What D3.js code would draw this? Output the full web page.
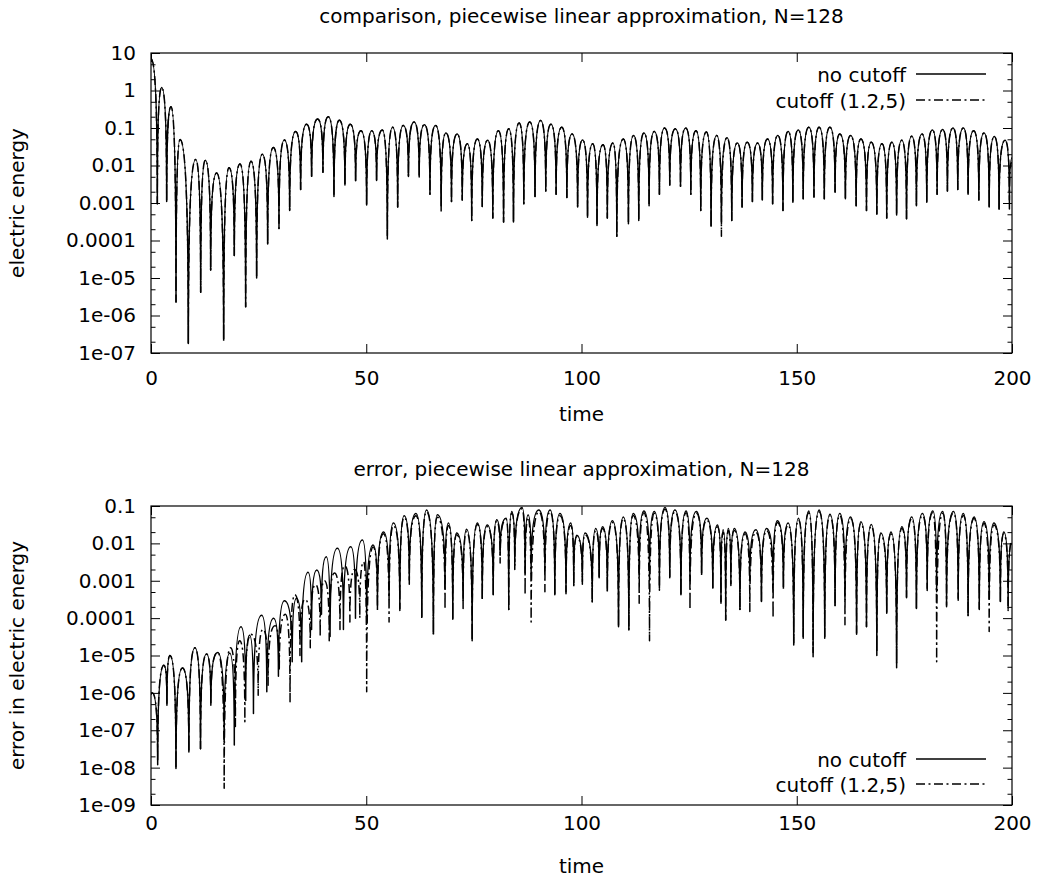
<!DOCTYPE html>
<html>
<head>
<meta charset="utf-8">
<script src="https://cdn.jsdelivr.net/npm/d3@7"></script>
<style>
  body { margin: 0; background: #fff; }
  text { font-family: "DejaVu Sans", sans-serif; }
</style>
</head>
<body>
<div id="chart"></div>
<script>
// x axis ticks (time)
const xTicks = [0, 50, 100, 150, 200];

// y axis ticks, upper panel
const topTicks = [10, 1, 0.1, 0.01, 0.001, 0.0001, 1e-5, 1e-6, 1e-7];
const topTickLabels = ["10", "1", "0.1", "0.01", "0.001", "0.0001", "1e-05", "1e-06", "1e-07"];

// y axis ticks, lower panel
const errTicks = [0.1, 0.01, 0.001, 0.0001, 1e-5, 1e-6, 1e-7, 1e-8, 1e-9];
const errTickLabels = ["0.1", "0.01", "0.001", "0.0001", "1e-05", "1e-06", "1e-07", "1e-08", "1e-09"];

const seriesNames = ["no cutoff", "cutoff (1.2,5)"];

// electric energy, no cutoff: [time, value] at the lobe tops and dips
const topNoCutoff = [
  [0,7],[1.47,9.5e-4],[2.48,1.2],[3.64,1.1e-3],[4.64,0.37],[5.81,2.3e-6],[6.74,0.049],[8.67,1.8e-7],
  [10.38,0.0145],[11.54,4.2e-6],[12.62,0.0138],[13.86,1.6e-5],[15.25,6.3e-3],[16.88,2.4e-7],[18.12,8.7e-3],
  [19.35,4e-5],[20.67,0.011],[21.99,1.7e-6],[23.23,0.013],[24.54,1e-5],[25.86,0.020],[27.1,8.1e-5],
  [28.42,0.030],[29.73,2.1e-4],[30.97,0.048],[32.21,6.3e-4],[33.6,0.081],[34.76,2.3e-3],[36.15,0.126],
  [37.31,5.2e-3],[38.7,0.174],[39.94,6.6e-3],[41.18,0.20],[42.5,1.5e-3],[43.74,0.162],[45.05,3e-3],
  [46.29,0.126],[47.53,3.9e-3],[48.77,0.085],[50.09,8.9e-4],[51.26,0.085],[52.4,4e-3],[53.73,0.089],
  [54.9,1.35e-4],[56.1,0.105],[57.3,7.8e-4],[58.6,0.117],[59.8,5.1e-3],[61.1,0.145],[62.3,4.9e-3],
  [63.5,0.123],[64.8,1.7e-3],[66.1,0.117],[67.4,8.5e-4],[68.5,0.074],[69.8,1.1e-3],[71.1,0.069],
  [72.3,1.2e-3],[73.5,0.038],[74.5,3.4e-4],[75.8,0.051],[76.95,8.1e-4],[78.2,0.047],[79.4,4e-4],
  [80.7,0.085],[81.9,3.1e-4],[83.1,0.095],[84.2,3.1e-4],[85.5,0.135],[86.6,9.5e-4],[88.0,0.145],
  [89.2,1.5e-3],[90.5,0.158],[91.7,2.1e-3],[92.9,0.126],[94.1,1.7e-3],[95.4,0.105],[96.6,1.4e-3],
  [97.8,0.069],[99.1,7.8e-4],[100.25,0.048],[101.4,4.2e-4],[102.6,0.038],[103.6,2.5e-4],[105.0,0.036],
  [106.0,4e-4],[107.3,0.040],[108.2,1.3e-4],[109.7,0.051],[110.9,2.8e-4],[112.1,0.063],[113.3,3.4e-4],
  [114.5,0.074],[115.7,8.5e-4],[116.9,0.081],[118.1,1.7e-3],[119.3,0.10],[120.5,3e-3],[121.8,0.095],
  [123.0,2.8e-3],[124.2,0.10],[125.4,1.7e-3],[126.6,0.085],[127.7,6.3e-4],[129.0,0.078],[130.1,2.5e-4],
  [131.4,0.063],[132.5,3.1e-4],[133.8,0.055],[134.9,3.4e-4],[136.2,0.040],[137.3,7.8e-4],[138.5,0.042],
  [139.7,1.1e-3],[140.9,0.040],[142.0,1.2e-3],[143.2,0.051],[144.4,9.5e-4],[145.6,0.063],[146.8,6.3e-4],
  [148.0,0.081],[149.1,1.05e-3],[150.35,0.089],[151.5,1.3e-3],[152.8,0.105],[154.0,1.45e-3],[155.2,0.105],
  [156.4,1.3e-3],[157.7,0.105],[158.9,1.95e-3],[160.0,0.069],[161.3,1.3e-3],[162.5,0.063],[163.8,8.5e-4],
  [164.9,0.051],[166.2,6.3e-4],[167.3,0.042],[168.6,5.1e-4],[169.8,0.038],[170.9,4e-4],[172.1,0.042],
  [173.2,4.8e-4],[174.4,0.047],[175.5,3.8e-4],[176.7,0.060],[177.8,8.5e-4],[179.1,0.069],[180.2,1.05e-3],
  [181.5,0.089],[182.6,1.7e-3],[183.9,0.091],[185.0,2.1e-3],[186.3,0.10],[187.4,2.3e-3],[188.7,0.10],
  [189.8,1.7e-3],[191.1,0.085],[192.3,1.2e-3],[193.5,0.074],[194.7,7.8e-4],[195.9,0.059],[197.0,6.9e-4],
  [198.4,0.047],[199.4,6.9e-4],[200,0.016]
];

// electric energy, cutoff (1.2,5)
const topCutoff = [
  [0,7],[1.47,9.5e-4],[2.48,1.2],[3.64,1.1e-3],[4.64,0.37],[5.81,2.3e-6],[6.74,0.049],[8.67,1.8e-7],
  [10.38,0.0145],[11.54,4.2e-6],[12.62,0.0138],[13.86,1.6e-5],[15.25,6.3e-3],[16.88,2e-7],[18.12,8.7e-3],
  [19.35,4e-5],[20.67,0.011],[21.99,1.7e-6],[23.23,0.013],[24.54,1e-5],[25.86,0.020],[27.1,8.1e-5],
  [28.42,0.030],[29.73,2.1e-4],[30.97,0.048],[32.21,6.3e-4],[33.6,0.081],[34.76,2.3e-3],[36.15,0.126],
  [37.31,5.2e-3],[38.7,0.174],[39.94,6.6e-3],[41.18,0.20],[42.5,1.5e-3],[43.74,0.162],[45.05,3e-3],
  [46.29,0.126],[47.53,3.9e-3],[48.77,0.085],[50.09,8.9e-4],[51.26,0.085],[52.4,4e-3],[53.73,0.089],
  [54.9,1.1e-4],[56.1,0.105],[57.3,7.8e-4],[58.6,0.117],[59.8,5.1e-3],[61.1,0.145],[62.3,4.9e-3],
  [63.5,0.123],[64.8,1.7e-3],[66.1,0.117],[67.4,5.9e-4],[68.5,0.074],[69.8,1.1e-3],[71.1,0.069],
  [72.3,1.2e-3],[73.5,0.038],[74.5,3.4e-4],[75.8,0.051],[76.95,8.1e-4],[78.2,0.047],[79.4,4e-4],
  [80.7,0.085],[81.9,3.1e-4],[83.1,0.095],[84.2,3.1e-4],[85.5,0.135],[86.6,9.5e-4],[88.0,0.145],
  [89.2,1.5e-3],[90.5,0.158],[91.7,2.1e-3],[92.9,0.126],[94.1,1.7e-3],[95.4,0.105],[96.6,1.4e-3],
  [97.8,0.069],[99.1,7.8e-4],[100.25,0.048],[101.4,4.2e-4],[102.6,0.038],[103.6,2.5e-4],[105.0,0.036],
  [106.0,4e-4],[107.3,0.040],[108.2,1.3e-4],[109.7,0.051],[110.9,2.8e-4],[112.1,0.063],[113.3,3.4e-4],
  [114.5,0.074],[115.7,8.5e-4],[116.9,0.081],[118.1,1.7e-3],[119.3,0.10],[120.5,3e-3],[121.8,0.095],
  [123.0,2.8e-3],[124.2,0.10],[125.4,1.7e-3],[126.6,0.085],[127.7,6.3e-4],[129.0,0.078],[130.1,2.2e-4],
  [131.4,0.063],[132.5,1.3e-4],[133.8,0.055],[134.9,3.4e-4],[136.2,0.040],[137.3,7.8e-4],[138.5,0.042],
  [139.7,1.1e-3],[140.9,0.040],[142.0,1.2e-3],[143.2,0.051],[144.4,9.5e-4],[145.6,0.063],[146.8,6.3e-4],
  [148.0,0.081],[149.1,1.05e-3],[150.35,0.089],[151.5,1.3e-3],[152.8,0.105],[154.0,1.45e-3],[155.2,0.105],
  [156.4,1.3e-3],[157.7,0.105],[158.9,1.95e-3],[160.0,0.069],[161.3,1.3e-3],[162.5,0.063],[163.8,8.5e-4],
  [164.9,0.051],[166.2,6.3e-4],[167.3,0.042],[168.6,5.1e-4],[169.8,0.038],[170.9,4e-4],[172.1,0.042],
  [173.2,4.8e-4],[174.4,0.047],[175.5,3.8e-4],[176.7,0.060],[177.8,8.5e-4],[179.1,0.069],[180.2,1.05e-3],
  [181.5,0.089],[182.6,1.7e-3],[183.9,0.091],[185.0,2.1e-3],[186.3,0.10],[187.4,2.3e-3],[188.7,0.10],
  [189.8,1.7e-3],[191.1,0.085],[192.3,1.2e-3],[193.5,0.074],[194.7,7.8e-4],[195.9,0.059],[197.0,6.9e-4],
  [198.4,0.047],[199.4,1.2e-3],[200,0.012]
];

// error in electric energy, no cutoff
const errNoCutoff = [
  [0,9e-7],[0.3,1e-6],[1.55,1.2e-8],[3.0,5.5e-6],[3.7,4.7e-7],[4.4,1e-5],[5.8,9.5e-9],[7.3,4.6e-6],
  [8.8,2.6e-8],[10.2,1.6e-5],[11.5,3.2e-8],[12.9,1.1e-5],[13.9,4.7e-7],[15.5,1.2e-5],[17.0,4.9e-8],
  [18.3,1.15e-5],[19.35,4e-8],[20.9,5.9e-5],[22.0,6.3e-7],[22.9,3.5e-5],[23.8,2.8e-7],[25.7,1.2e-4],
  [26.9,1.07e-6],[28.5,1e-4],[29.6,2.8e-6],[31.0,2.9e-4],[32.8,6.8e-6],[33.8,3.4e-4],[35.0,6.8e-6],
  [36.5,1.7e-3],[37.3,5e-5],[38.5,1.95e-3],[39.6,1.26e-4],[40.7,4.4e-3],[41.6,3.2e-5],[43.3,7.4e-3],
  [44.7,5e-5],[46.4,8.1e-3],[47.5,1e-4],[49.1,0.0123],[50.1,7.2e-5],[51.6,9.1e-3],[52.6,2.2e-4],
  [54.0,0.020],[55.3,3.2e-4],[56.3,0.035],[57.8,1.8e-4],[58.8,0.055],[60.0,1.05e-3],[61.55,0.063],
  [62.9,1.1e-4],[64.0,0.078],[65.6,3.9e-5],[66.5,0.058],[68.3,6.3e-4],[69.1,0.035],[70.1,9.3e-5],
  [71.0,0.019],[72.5,3e-4],[73.3,0.024],[74.6,2.5e-5],[75.8,0.035],[76.95,3.4e-4],[78.1,0.031],
  [79.5,4.2e-4],[80.3,0.043],[81.1,5e-3],[82.5,0.047],[83.1,1.7e-4],[83.8,0.071],[84.5,2.6e-3],
  [86.2,0.091],[86.9,1.6e-3],[87.6,0.058],[88.3,1.6e-3],[90.1,0.078],[91.5,1.8e-3],[92.7,0.078],
  [93.8,4.2e-4],[95.0,0.063],[96.4,5.1e-4],[97.5,0.035],[98.2,7.8e-4],[98.9,0.0166],[100.2,9.5e-4],
  [100.8,0.019],[102.5,2.8e-4],[103.3,0.025],[104.1,1.3e-3],[104.9,0.028],[106.0,5.6e-4],[107.2,0.040],
  [108.6,5.9e-5],[109.7,0.051],[111.0,4.8e-5],[112.0,0.063],[113.4,1.26e-3],[114.5,0.074],[115.8,1e-3],
  [116.9,0.071],[118.1,6.3e-4],[119.4,0.091],[120.5,1.3e-3],[121.7,0.078],[123.1,4.2e-4],[124.3,0.074],
  [125.2,1e-3],[126.7,0.071],[127.9,1.6e-3],[129.1,0.047],[130.5,6.5e-4],[131.6,0.031],[132.4,2.8e-4],
  [132.9,0.023],[133.5,8.9e-5],[134.1,0.025],[134.7,8.5e-4],[135.5,0.025],[136.8,1.7e-4],[138.0,0.020],
  [139.1,1e-3],[140.5,0.023],[141.8,2.8e-4],[143.0,0.025],[144.5,6.3e-4],[145.5,0.040],[146.9,6.9e-4],
  [148.0,0.035],[149.3,1.9e-5],[150.4,0.047],[151.5,2.9e-5],[152.8,0.074],[153.8,9.3e-6],[155.2,0.078],
  [156.5,2.9e-5],[157.7,0.060],[158.9,2.2e-4],[160.0,0.063],[161.2,3.2e-4],[162.5,0.051],[163.9,3.7e-5],
  [164.9,0.038],[166.2,5.9e-5],[167.3,0.032],[168.6,1e-5],[169.5,0.019],[170.9,1.35e-4],[171.9,0.020],
  [173.2,4.7e-6],[174.4,0.028],[175.5,3.7e-4],[176.7,0.051],[177.8,1.8e-4],[179.2,0.063],[180.3,6.3e-4],
  [181.6,0.074],[182.5,5.1e-4],[183.9,0.071],[184.8,2.2e-4],[186.4,0.071],[187.5,3.4e-4],[188.7,0.063],
  [189.8,1.2e-4],[191.2,0.051],[192.4,1.8e-4],[193.5,0.038],[194.7,3.2e-4],[195.8,0.035],[197.3,2.8e-4],
  [198.1,0.020],[199.1,1.8e-4],[200,0.01]
];

// error in electric energy, cutoff (1.2,5)
const errCutoff = [
  [0,9e-7],[0.3,1e-6],[1.55,1.5e-8],[3.0,5.5e-6],[3.7,5e-7],[4.4,1e-5],[5.8,9.5e-9],[7.3,4.6e-6],
  [8.8,2.6e-8],[10.2,1.6e-5],[11.5,3.2e-8],[12.9,1.1e-5],[13.9,4.7e-7],[15.5,1.2e-5],[17.0,2.8e-9],
  [18.5,1.6e-5],[19.6,1.26e-7],[20.6,2.5e-5],[21.8,1.7e-7],[23.2,3.7e-5],[24.9,8.7e-7],[26.0,5e-5],
  [27.2,1.6e-6],[28.8,6.3e-5],[29.8,4e-6],[31.2,1.26e-4],[32.3,5.8e-7],[33.4,4.2e-4],[34.6,1e-5],
  [35.8,3.2e-4],[37.0,1.6e-5],[38.2,7.9e-4],[39.3,3.2e-5],[40.3,1e-3],[41.4,2.5e-5],[42.6,1.6e-3],
  [43.9,5e-5],[45.0,2.5e-3],[46.2,7.9e-5],[47.3,2e-3],[48.5,1e-4],[49.4,3.2e-3],[50.1,1.07e-6],
  [51.6,8e-3],[52.6,1.5e-4],[54.0,0.018],[55.3,7.9e-5],[56.3,0.03],[57.8,1.6e-4],[58.8,0.05],
  [60.0,8e-4],[61.55,0.055],[62.9,1e-4],[64.0,0.07],[65.6,3.5e-5],[66.5,0.05],[68.3,1.7e-4],
  [69.1,0.03],[70.1,9e-5],[71.0,0.017],[72.5,1.8e-4],[73.3,0.021],[74.6,2.5e-5],[75.8,0.032],
  [76.95,3e-4],[78.1,0.028],[79.5,4e-4],[80.3,0.04],[81.1,3e-3],[82.5,0.045],[83.1,1.7e-4],
  [83.8,0.065],[84.5,2e-3],[86.2,0.085],[86.9,4.2e-4],[87.6,0.05],[88.3,7.9e-5],[90.1,0.07],
  [91.5,5.1e-4],[92.7,0.07],[93.8,4e-4],[95.0,0.055],[96.4,4.5e-4],[97.5,0.03],[98.2,7e-4],
  [98.9,0.015],[100.2,8e-4],[100.8,0.017],[102.5,2.6e-4],[103.3,0.022],[104.1,1.2e-3],[104.9,0.025],
  [106.0,5e-4],[107.2,0.036],[108.6,5.9e-5],[109.7,0.046],[111.0,4.8e-5],[112.0,0.056],[113.4,2.5e-4],
  [114.5,0.066],[115.8,2.5e-5],[116.9,0.064],[118.1,5.6e-4],[119.4,0.082],[120.5,1.2e-3],[121.7,0.07],
  [123.1,4e-4],[124.3,0.066],[125.2,1.7e-4],[126.7,0.064],[127.9,1.4e-3],[129.1,0.042],[130.5,5.8e-4],
  [131.6,0.028],[132.4,2.5e-4],[132.9,0.02],[133.5,8.9e-5],[134.1,0.022],[134.7,7.5e-4],[135.5,0.022],
  [136.8,1.6e-4],[138.0,0.018],[139.1,1.5e-4],[140.5,0.02],[141.8,2.6e-4],[143.0,0.022],[144.5,1e-4],
  [145.5,0.036],[146.9,6e-4],[148.0,0.031],[149.3,2.2e-5],[150.4,0.042],[151.5,3.2e-5],[152.8,0.066],
  [153.8,1.2e-5],[155.2,0.07],[156.5,3.2e-5],[157.7,0.054],[158.9,2e-4],[160.0,0.056],[161.2,6.6e-5],
  [162.5,0.046],[163.9,4e-5],[164.9,0.034],[166.2,6e-5],[167.3,0.029],[168.6,1.2e-5],[169.5,0.017],
  [170.9,1.3e-4],[171.9,0.018],[173.2,6e-6],[174.4,0.025],[175.5,3.5e-4],[176.7,0.046],[177.8,1.7e-4],
  [179.2,0.056],[180.3,5.5e-4],[181.6,0.066],[182.5,6.8e-6],[183.9,0.064],[184.8,2e-4],[186.4,0.064],
  [187.5,3e-4],[188.7,0.056],[189.8,1.1e-4],[191.2,0.046],[192.4,1.7e-4],[193.5,0.034],[194.7,4.4e-5],
  [195.8,0.031],[197.3,2.5e-4],[198.1,0.018],[199.1,1.6e-4],[200,0.012]
];

const settings = {
  width: 1041,
  height: 880,
  left: 151,
  right: 1012,
  fontSize: 20,
  dash: "9,3.5,2,3.5",
};

const panels = [
  {
    top: 53, bottom: 353,
    title: "comparison, piecewise linear approximation, N=128",
    ylabel: "electric energy",
    ticks: topTicks, labels: topTickLabels,
    series: [topNoCutoff, topCutoff],
    legendY: [74, 100],
    xPad: 18,
  },
  {
    top: 506, bottom: 805,
    title: "error, piecewise linear approximation, N=128",
    ylabel: "error in electric energy",
    ticks: errTicks, labels: errTickLabels,
    series: [errNoCutoff, errCutoff],
    legendY: [759, 784],
    xPad: 11,
  },
];

// lobes: rising segments leave a dip vertically, falling ones leave a top flat
function curveArch(context) {
  let x0, y0, n;
  return {
    areaStart() {}, areaEnd() {},
    lineStart() { n = 0; },
    lineEnd() {},
    point(x, y) {
      x = +x; y = +y;
      if (n === 0) context.moveTo(x, y);
      else if (y < y0) context.quadraticCurveTo(x0, y, x, y);
      else context.quadraticCurveTo(x, y0, x, y);
      x0 = x; y0 = y; n++;
    }
  };
}

const svg = d3.select("#chart").append("svg")
  .attr("width", settings.width)
  .attr("height", settings.height)
  .attr("viewBox", [0, 0, settings.width, settings.height])
  .style("background", "#fff");

const xScale = d3.scaleLinear([0, 200], [settings.left, settings.right]);

function styleAxis(g) {
  g.select(".domain").remove();
  g.attr("font-size", settings.fontSize)
   .attr("font-family", "DejaVu Sans, sans-serif");
  g.selectAll(".tick line").attr("stroke", "#000").attr("stroke-width", 1);
  g.selectAll(".tick text").attr("fill", "#000");
}

panels.forEach((p, pi) => {
  const yScale = d3.scaleLog([p.ticks[p.ticks.length - 1], p.ticks[0]], [p.bottom, p.top]);
  const minors = [];
  p.ticks.slice(1).forEach(m => { minors.push(m * 2, m * 5); });

  const yAxis = d3.axisLeft(yScale).tickValues(p.ticks)
    .tickFormat((d, i) => p.labels[i]).tickSize(-9).tickPadding(15);
  const yMinor = d3.axisLeft(yScale).tickValues(minors).tickFormat("").tickSize(-4.5);
  const yAxisR = d3.axisRight(yScale).tickValues(p.ticks).tickFormat("").tickSize(-9);
  const yMinorR = d3.axisRight(yScale).tickValues(minors).tickFormat("").tickSize(-4.5);
  const xAxis = d3.axisBottom(xScale).tickValues(xTicks).tickSize(-9).tickPadding(p.xPad);
  const xAxisT = d3.axisTop(xScale).tickValues(xTicks).tickFormat("").tickSize(-9);

  svg.append("g").attr("transform", `translate(${settings.left},0)`).call(yAxis).call(styleAxis);
  svg.append("g").attr("transform", `translate(${settings.left},0)`).call(yMinor).call(styleAxis);
  svg.append("g").attr("transform", `translate(${settings.right},0)`).call(yAxisR).call(styleAxis);
  svg.append("g").attr("transform", `translate(${settings.right},0)`).call(yMinorR).call(styleAxis);
  svg.append("g").attr("transform", `translate(0,${p.bottom})`).call(xAxis).call(styleAxis);
  svg.append("g").attr("transform", `translate(0,${p.top})`).call(xAxisT).call(styleAxis);

  // clip
  svg.append("clipPath").attr("id", "clip" + pi)
    .append("rect")
    .attr("x", settings.left).attr("y", p.top)
    .attr("width", settings.right - settings.left)
    .attr("height", p.bottom - p.top);

  const line = d3.line()
    .curve(curveArch)
    .x(d => xScale(d[0]))
    .y(d => yScale(d[1]));

  p.series.forEach((s, si) => {
    svg.append("path")
      .attr("clip-path", `url(#clip${pi})`)
      .attr("fill", "none")
      .attr("stroke", "#000")
      .attr("stroke-width", 1.5)
      .attr("stroke-linejoin", "round")
      .attr("stroke-dasharray", si === 1 ? settings.dash : null)
      .attr("d", line(s));
  });

  // frame
  svg.append("rect")
    .attr("x", settings.left).attr("y", p.top)
    .attr("width", settings.right - settings.left)
    .attr("height", p.bottom - p.top)
    .attr("fill", "none").attr("stroke", "#000").attr("stroke-width", 1.2);

  // title
  svg.append("text")
    .attr("x", (settings.left + settings.right) / 2)
    .attr("y", p.top - 30)
    .attr("text-anchor", "middle")
    .attr("font-size", settings.fontSize)
    .text(p.title);

  // y label
  svg.append("text")
    .attr("transform", `translate(24,${(p.top + p.bottom) / 2}) rotate(-90)`)
    .attr("text-anchor", "middle")
    .attr("font-size", settings.fontSize)
    .text(p.ylabel);

  // x label
  svg.append("text")
    .attr("x", (settings.left + settings.right) / 2)
    .attr("y", p.bottom + 68)
    .attr("text-anchor", "middle")
    .attr("font-size", settings.fontSize)
    .text("time");

  // legend
  seriesNames.forEach((name, si) => {
    const ly = p.legendY[si];
    svg.append("text")
      .attr("x", 906).attr("y", ly + 8)
      .attr("text-anchor", "end")
      .attr("font-size", settings.fontSize)
      .text(name);
    svg.append("line")
      .attr("x1", 916).attr("x2", 986)
      .attr("y1", ly).attr("y2", ly)
      .attr("stroke", "#000").attr("stroke-width", 1.5)
      .attr("stroke-dasharray", si === 1 ? settings.dash : null);
  });
});
</script>
</body>
</html>
